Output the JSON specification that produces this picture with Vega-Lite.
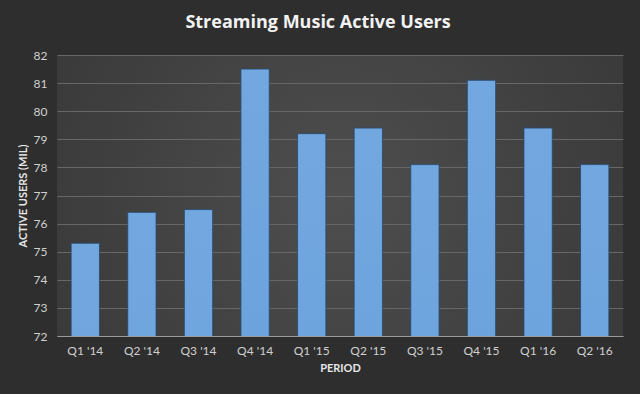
{
  "$schema": "https://vega.github.io/schema/vega-lite/v6.json",
  "width": 566,
  "height": 281,
  "autosize": "none",
  "padding": {"left": 57, "top": 55, "right": 17, "bottom": 58},
  "background": "#2e2e2e",
  "title": {
    "text": "Streaming Music Active Users",
    "font": "Open Sans",
    "fontSize": 18,
    "fontWeight": "bold",
    "color": "#f2f2f2",
    "anchor": "middle",
    "dx": -22,
    "offset": 17
  },
  "data": {
    "values": [
      {"period": "Q1 '14", "users": 75.3},
      {"period": "Q2 '14", "users": 76.4},
      {"period": "Q3 '14", "users": 76.5},
      {"period": "Q4 '14", "users": 81.5},
      {"period": "Q1 '15", "users": 79.2},
      {"period": "Q2 '15", "users": 79.4},
      {"period": "Q3 '15", "users": 78.1},
      {"period": "Q4 '15", "users": 81.1},
      {"period": "Q1 '16", "users": 79.4},
      {"period": "Q2 '16", "users": 78.1}
    ]
  },
  "mark": {
    "type": "bar",
    "clip": true,
    "fill": {
      "gradient": "linear",
      "x1": 0, "y1": 0, "x2": 0, "y2": 1,
      "stops": [
        {"offset": 0, "color": "#72a7df"},
        {"offset": 1, "color": "#4a89cf"}
      ]
    },
    "stroke": "#25486e",
    "strokeWidth": 1,
    "strokeOpacity": 0.8
  },
  "encoding": {
    "x": {
      "field": "period",
      "type": "nominal",
      "sort": null,
      "title": "PERIOD",
      "scale": {"paddingInner": 0.5, "paddingOuter": 0.25},
      "axis": {
        "labelAngle": 0,
        "ticks": false,
        "domainColor": "#9a9a9a",
        "domainWidth": 1,
        "labelColor": "#d0d0d0",
        "labelFont": "Lato",
        "labelFontSize": 12,
        "labelPadding": 9,
        "titleColor": "#e6e6e6",
        "titleFont": "Lato",
        "titleFontSize": 11,
        "titleFontWeight": "bold",
        "titlePadding": 6
      }
    },
    "y": {
      "field": "users",
      "type": "quantitative",
      "title": "ACTIVE USERS (MIL)",
      "scale": {"domain": [72, 82], "nice": false, "zero": false},
      "axis": {
        "values": [72, 73, 74, 75, 76, 77, 78, 79, 80, 81, 82],
        "ticks": false,
        "domain": false,
        "gridColor": "#676767",
        "gridWidth": 1,
        "labelColor": "#d0d0d0",
        "labelFont": "Lato",
        "labelFontSize": 12,
        "labelPadding": 10,
        "titleColor": "#e6e6e6",
        "titleFont": "Lato",
        "titleFontSize": 11,
        "titleFontWeight": "bold",
        "titlePadding": 5
      }
    }
  },
  "config": {
    "view": {
      "stroke": null,
      "fill": {
        "gradient": "radial",
        "x1": 0.5, "y1": 0.5, "r1": 0,
        "x2": 0.5, "y2": 0.5, "r2": 0.75,
        "stops": [
          {"offset": 0, "color": "#4e4e4e"},
          {"offset": 1, "color": "#333333"}
        ]
      }
    }
  }
}
